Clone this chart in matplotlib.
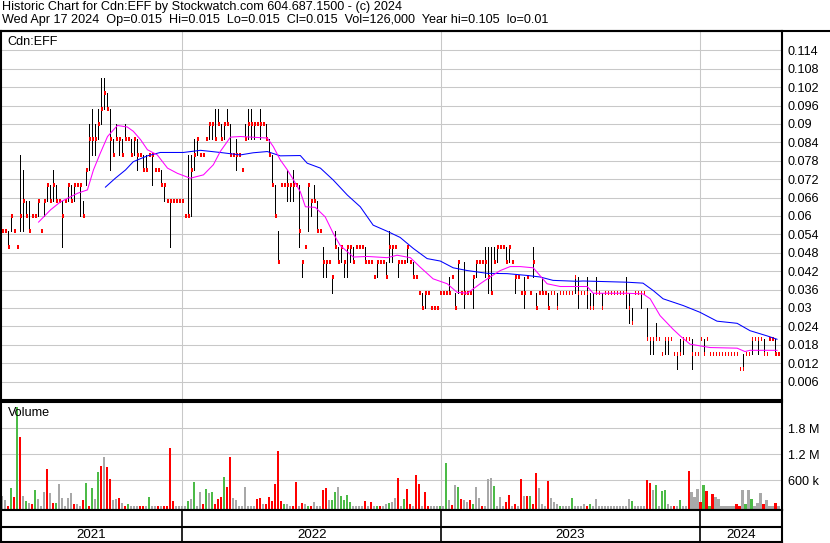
import matplotlib
matplotlib.use("Agg")
import matplotlib.pyplot as plt
from matplotlib.lines import Line2D
import numpy as np

W, H = 830, 543
FONT = "Liberation Sans"

TITLE = "Historic Chart for Cdn:EFF by Stockwatch.com 604.687.1500 - (c) 2024"
SUBTITLE = ("Wed Apr 17 2024  Op=0.015  Hi=0.015  Lo=0.015  Cl=0.015  "
            "Vol=126,000  Year hi=0.105  lo=0.01")
SYMBOL = "Cdn:EFF"

# one entry per trading session, prices in thousandths of a dollar
CLOSE_MILS = [
    55, 55, 50, 60, 55, 50, 60, 65, 60, 55, 60, 60, 65, 55, 65, 70, 65, 70, 65, 65,
    60, 65, 70, 65, 70, 70, 70, 60, 75, 85, 85, 85, 90, 95, 100, 95, 85, 80, 85, 85,
    80, 85, 85, 80, 85, 80, 80, 75, 75, 80, 80, 75, 75, 70, 70, 65, 65, 65, 65, 65,
    65, 60, 60, 75, 80, 85, 80, 80, 85, 90, 90, 85, 90, 85, 90, 90, 80, 80, 80, 80,
    75, 85, 90, 90, 90, 90, 90, 90, 85, 80, 70, 60, 45, 70, 70, 70, 70, 70, 70, 55,
    45, 50, 70, 65, 65, 55, 55, 45, 45, 45, 40, 50, 45, 50, 45, 50, 50, 45, 50, 50,
    50, 45, 45, 45, 40, 45, 45, 45, 40, 50, 50, 50, 45, 45, 45, 50, 45, 40, 40, 35,
    30, 35, 35, 30, 30, 30, 35, 35, 35, 35, 40, 30, 45, 35, 35, 35, 35, 40, 45, 45,
    45, 45, 40, 35, 45, 50, 50, 50, 45, 50, 45, 40, 40, 35, 35, 40, 35, 45, 30, 35,
    35, 35, 30, 35, 35, 30, 35, 35, 35, 35, 35, 40, 35, 35, 35, 35, 30, 30, 35, 35,
    30, 35, 35, 35, 35, 35, 35, 35, 35, 30, 25, 35, 35, 35, 35, 20, 20, 20, 20, 20,
    15, 20, 20, 20, 15, 15, 15, 20, 20, 20, 15, 15, 15, 20, 15, 20, 15, 15, 15, 15,
    15, 15, 15, 15, 15, 15, 10, 10, 15, 15, 20, 20, 20, 20, 15, 15, 20, 20, 15, 15,
]
HIGH_MILS = [
    55, 55, 55, 60, 55, 50, 80, 75, 65, 65, 60, 60, 65, 55, 65, 70, 70, 75, 70, 65,
    65, 65, 70, 70, 70, 70, 70, 65, 75, 90, 95, 90, 95, 105, 105, 100, 95, 85, 90, 85,
    85, 90, 85, 85, 85, 85, 80, 80, 80, 80, 80, 75, 75, 75, 70, 65, 65, 65, 65, 65,
    65, 60, 80, 80, 85, 85, 80, 80, 85, 90, 90, 95, 95, 90, 90, 95, 90, 80, 85, 80,
    75, 90, 95, 95, 90, 90, 95, 90, 90, 85, 80, 70, 55, 70, 70, 75, 70, 75, 70, 70,
    45, 50, 70, 65, 70, 65, 55, 50, 45, 45, 40, 55, 50, 50, 45, 50, 50, 50, 50, 50,
    50, 50, 45, 45, 40, 45, 45, 45, 45, 55, 50, 50, 45, 45, 45, 50, 45, 45, 40, 35,
    35, 35, 35, 30, 30, 30, 35, 35, 35, 40, 40, 35, 45, 35, 45, 35, 35, 40, 45, 45,
    45, 50, 50, 50, 50, 50, 50, 50, 50, 50, 45, 40, 40, 35, 40, 40, 35, 50, 35, 35,
    40, 35, 35, 35, 35, 35, 35, 35, 35, 35, 35, 40, 40, 35, 35, 40, 35, 35, 40, 35,
    35, 35, 35, 35, 35, 35, 35, 35, 40, 35, 30, 35, 35, 35, 35, 30, 20, 20, 25, 20,
    15, 20, 20, 20, 15, 15, 20, 20, 20, 20, 20, 15, 15, 20, 20, 20, 15, 15, 15, 15,
    15, 15, 15, 15, 15, 15, 10, 15, 15, 15, 20, 20, 20, 20, 20, 15, 20, 20, 20, 15,
]
LOW_MILS = [
    55, 55, 50, 55, 55, 50, 55, 55, 60, 55, 60, 60, 60, 55, 60, 65, 65, 65, 65, 65,
    50, 65, 65, 65, 65, 70, 60, 60, 70, 75, 80, 80, 85, 90, 95, 95, 75, 80, 85, 80,
    80, 85, 85, 80, 80, 75, 80, 75, 75, 80, 70, 75, 75, 70, 65, 65, 50, 65, 65, 65,
    65, 60, 60, 60, 75, 80, 80, 80, 85, 85, 85, 85, 90, 85, 85, 90, 80, 80, 75, 80,
    75, 85, 85, 85, 85, 90, 85, 90, 85, 80, 70, 60, 45, 70, 70, 65, 65, 65, 70, 50,
    40, 50, 55, 60, 65, 55, 55, 40, 40, 45, 35, 50, 45, 45, 40, 40, 45, 45, 50, 50,
    50, 45, 45, 45, 40, 40, 45, 45, 40, 45, 45, 50, 40, 45, 45, 45, 45, 40, 40, 35,
    30, 30, 35, 30, 30, 30, 35, 35, 35, 35, 40, 30, 35, 35, 30, 35, 35, 30, 40, 45,
    45, 40, 35, 35, 45, 45, 50, 50, 45, 45, 45, 35, 40, 35, 30, 40, 35, 40, 30, 35,
    35, 35, 30, 35, 35, 30, 35, 35, 35, 35, 35, 35, 30, 35, 35, 30, 30, 30, 35, 35,
    30, 35, 35, 35, 35, 35, 35, 35, 30, 25, 25, 35, 35, 30, 35, 20, 15, 15, 20, 20,
    15, 15, 15, 20, 15, 10, 15, 15, 20, 20, 10, 15, 15, 20, 15, 20, 15, 15, 15, 15,
    15, 15, 15, 15, 15, 15, 10, 10, 15, 15, 15, 20, 15, 20, 15, 15, 20, 20, 15, 15,
]

# shares traded per session, in thousands
VOLUME_K = [
    247, 156, 8, 423, 213, 2298, 1610, 235, 123, 78, 55, 371, 162, 5, 331, 866, 309, 78, 78, 517,
    190, 5, 190, 309, 55, 55, 21, 145, 551, 10, 427, 168, 799, 934, 1137, 900, 630, 156, 168, 190,
    78, 21, 66, 10, 5, 10, 10, 10, 5, 213, 5, 5, 5, 10, 10, 5, 1340, 117, 5, 5,
    5, 5, 123, 168, 573, 5, 331, 55, 404, 309, 331, 55, 168, 213, 669, 438, 1137, 190, 145, 5,
    5, 438, 5, 10, 5, 168, 190, 55, 55, 213, 123, 517, 1283, 123, 55, 55, 5, 10, 573, 5,
    78, 55, 10, 5, 100, 10, 5, 382, 427, 145, 145, 331, 438, 235, 145, 263, 100, 5, 5, 5,
    5, 123, 10, 100, 5, 10, 5, 10, 55, 78, 100, 190, 652, 5, 162, 393, 66, 5, 720, 528,
    5, 331, 10, 10, 5, 5, 5, 10, 1002, 145, 32, 495, 438, 168, 145, 106, 145, 55, 438, 185,
    10, 5, 630, 652, 472, 10, 213, 5, 111, 263, 5, 66, 5, 630, 235, 235, 235, 55, 765, 427,
    55, 5, 585, 207, 106, 55, 5, 5, 5, 5, 190, 5, 5, 5, 55, 21, 55, 5, 168, 5,
    5, 5, 5, 5, 5, 5, 5, 5, 5, 168, 117, 5, 5, 10, 5, 607, 540, 382, 495, 5,
    354, 382, 55, 5, 5, 10, 145, 10, 5, 816, 331, 213, 399, 100, 495, 354, 5, 286, 213, 168,
    5, 5, 5, 5, 5, 55, 10, 382, 55, 382, 168, 5, 78, 309, 55, 145, 5, 5, 78, 5,
]
# r = down day, g = up day, k = unchanged
VOLUME_TONE = (
    "kkrgrgrkgkrgkkkrkrgk" "kkkkrkkrgrgkgrkrrkkr" "krgkkkrrkgkkrkrrrrkk"
    "kkgkgkkrgkgrrrgrrkkk" "kkkkkrrkrrrrrrgkkrrk" "rkgrkkkrrkggkggggkkk"
    "krkrkgrkkgkkrkgrrkrr" "krrkkkgkgkrkgrkkrgkk" "rkkkgkkkrrkrkrkrgrrk"
    "kkrkkkgkkkgkkkkrgkkk" "kkkkkkkkkkgkkkkrrkgk" "ggkkrkgkkrkkkrgrgrkk"
    "kkkkkrrkgkgkkkrkkkrk"
)

# moving averages: (session, price)
MA_SHORT_AT = [12.2, 16.2, 19.5, 25.2, 28.5, 30.5, 32.8, 35.2, 38.5, 41.8, 43.8, 46.2, 48.5,
               51.8, 55.2, 58.5, 62.8, 67.2, 70.5, 72.8, 76.2, 79.5, 88.5, 90.5, 92.8, 95.2,
               97.2, 99.5, 101.2, 104.5, 107.8, 110.5, 112.8, 117.2, 121.8, 128.5, 131.8,
               136.2, 139.5, 143.8, 148.5, 151.8, 155.2, 159.5, 162.8, 166.2, 169.5, 172.8,
               177.2, 181.8, 186.2, 191.8, 195.2, 197.2, 208.5, 213.8, 216.2, 219.5, 223.8,
               226.2, 229.5, 236.2, 245.2, 247.8, 249.5, 258.5]
MA_SHORT = [.058, .062, .0646, .0674, .0685, .075, .0805, .0859, .0895, .089, .0876, .0849,
            .0816, .0799, .0756, .0739, .0723, .0734, .0767, .081, .0857, .0859, .0854, .0826,
            .0783, .075, .0718, .0679, .063, .0628, .0597, .0543, .0504, .0466, .0468, .0464,
            .0472, .0464, .0433, .0395, .0379, .0351, .0348, .0379, .0401, .0422, .0435, .0435,
            .0431, .0379, .037, .037, .037, .0348, .0348, .0346, .033, .0275, .0231, .0209,
            .0182, .0171, .0169, .0158, .0162, .0162]
MA_LONG_AT = [34.5, 37.8, 41.2, 43.8, 48.5, 52.8, 60.5, 66.2, 72.8, 79.5, 83.8, 88.5, 92.8,
              99.5, 101.8, 106.2, 110.5, 115.2, 119.5, 123.8, 128.5, 132.8, 137.2, 141.8,
              146.2, 150.5, 155.2, 161.8, 168.5, 175.2, 179.5, 183.8, 191.8, 193.8, 208.5,
              213.8, 217.2, 220.5, 227.2, 232.8, 238.5, 245.2, 249.5, 255.2, 258.5]
MA_LONG = [.0694, .0723, .075, .0777, .0796, .0807, .0807, .0814, .0807, .0799, .0806, .081,
           .0796, .0797, .0772, .0756, .0717, .0668, .063, .057, .055, .053, .0494, .0461,
           .0453, .0431, .0422, .0413, .0412, .0406, .0401, .039, .0387, .0388, .0384, .0381,
           .0357, .033, .0308, .0286, .0257, .025, .0226, .0209, .0198]

YEARS = ["2021", "2022", "2023", "2024"]
YEAR_EDGES = [60.2, 146.5, 232.8]
PRICE_TICKS = [0.006, 0.012, 0.018, 0.024, 0.03, 0.036, 0.042, 0.048, 0.054, 0.06,
               0.066, 0.072, 0.078, 0.084, 0.09, 0.096, 0.102, 0.108, 0.114]
VOLUME_TICKS = [600, 1200, 1800]
VOLUME_TICK_LABELS = ["600 k", "1.2 M", "1.8 M"]

GRID = "#c8c8c8"
TONES = {"r": "#ff0000", "g": "#4cbb47", "k": "#a8a8a8"}
VOL_FLOOR = -69     # volume bars rise from the panel floor, a little under zero
VOL_TOP = 2407

n = len(CLOSE_MILS)
assert len(HIGH_MILS) == n and len(LOW_MILS) == n
assert len(VOLUME_K) == n and len(VOLUME_TONE) == n
x = np.arange(n)
close = np.array(CLOSE_MILS) / 1000
high = np.array(HIGH_MILS) / 1000
low = np.array(LOW_MILS) / 1000
volume = np.array(VOLUME_K)
XLIM = (-0.5, 260.17)

plt.rcParams["font.family"] = [FONT, "DejaVu Sans"]
plt.rcParams["font.size"] = 9.1

fig = plt.figure(figsize=(W / 100, H / 100), dpi=100)


def box(left, top, right, bottom):
    return [left / W, 1 - bottom / H, (right - left) / W, (bottom - top) / H]


def frame(ax):
    for s in ax.spines.values():
        s.set_color("black")
        s.set_linewidth(1.5)


# price panel
ax = fig.add_axes(box(0.5, 31, 782, 400))
ax.set_xlim(*XLIM)
ax.set_ylim(0.0, 0.1203)
for y in PRICE_TICKS:
    ax.axhline(y, color=GRID, lw=0.75, zorder=0)
for e in YEAR_EDGES:
    ax.axvline(e, color=GRID, lw=0.75, zorder=0)
rng = high > low
ax.vlines(x[rng], low[rng], high[rng], color="black", lw=0.72, antialiased=False, zorder=2)
ax.hlines(close, x, x + 0.62, color="#ff0000", lw=1.5, antialiased=False, zorder=3)
ax.plot(MA_LONG_AT, MA_LONG, color="#0000ff", lw=0.75, zorder=4)
ax.plot(MA_SHORT_AT, MA_SHORT, color="#ff00ff", lw=0.75, zorder=4)
ax.set_xticks([])
ax.yaxis.tick_right()
ax.set_yticks(PRICE_TICKS)
ax.set_yticklabels([f"{t:g}" for t in PRICE_TICKS])
ax.tick_params(axis="y", length=0, pad=4)
ax.text(7 / 782, 1 - 11 / 369, SYMBOL, transform=ax.transAxes, va="center", ha="left")
frame(ax)

# volume panel
av = fig.add_axes(box(0.5, 402, 782, 509.5))
av.set_xlim(*XLIM)
av.set_ylim(VOL_FLOOR, VOL_TOP)
for y in VOLUME_TICKS:
    av.axhline(y, color=GRID, lw=0.75, zorder=0)
for e in YEAR_EDGES:
    av.axvline(e, color=GRID, lw=0.75, zorder=0)
av.bar(x, volume - VOL_FLOOR, bottom=VOL_FLOOR, width=0.7,
       color=[TONES[t] for t in VOLUME_TONE], linewidth=0, antialiased=False, zorder=2)
av.set_xticks([])
av.yaxis.tick_right()
av.set_yticks(VOLUME_TICKS)
av.set_yticklabels(VOLUME_TICK_LABELS)
av.tick_params(axis="y", length=0, pad=4)
av.text(7 / 782, 1 - 11 / 107.5, "Volume", transform=av.transAxes, va="center", ha="left")
frame(av)

# time band
at = fig.add_axes(box(0.5, 509.5, 782, 542))
at.set_xlim(*XLIM)
at.set_ylim(0, 1)
at.axhline(15.5 / 32.5, color="black", lw=1.5)
for e in YEAR_EDGES:
    at.axvline(e, color="black", lw=1.2)
edges = [XLIM[0]] + YEAR_EDGES + [XLIM[1]]
for i, label in enumerate(YEARS):
    at.text((edges[i] + edges[i + 1]) / 2, 0.22, label, ha="center", va="center", fontsize=9.6)
at.set_xticks([])
at.set_yticks([])
frame(at)

# header
fig.text(2 / W, 1 - 7 / H, TITLE, ha="left", va="center")
fig.text(2 / W, 1 - 20 / H, SUBTITLE, ha="left", va="center")
fig.add_artist(Line2D([0, 1], [1 - 31 / H, 1 - 31 / H], color="black", lw=1.5,
                      transform=fig.transFigure))

fig.savefig("out.png", dpi=100, facecolor="white")
